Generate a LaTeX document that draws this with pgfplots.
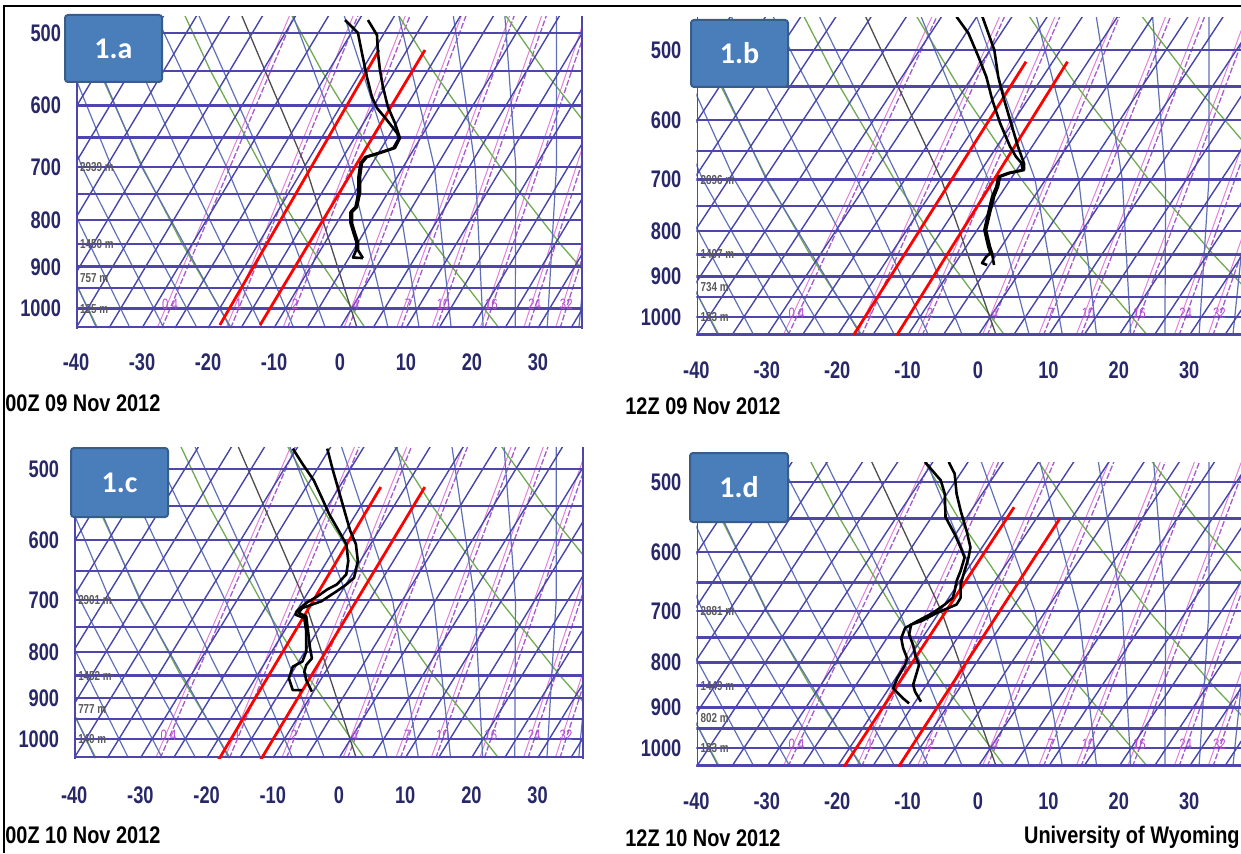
\documentclass[border=0pt]{standalone}
\usepackage{pgfplots}
\pgfplotsset{compat=1.18}
\usetikzlibrary{calc}
\usepackage{fontspec}
\setmainfont{Liberation Sans}
\newfontfamily\tickfont{Liberation Sans}[FakeStretch=0.76]
\newfontfamily\datefont{Liberation Sans}[FakeStretch=0.83]
\newfontfamily\boxfont{Carlito}

\definecolor{isobar}{RGB}{78,70,172}
\definecolor{isotherm}{RGB}{70,70,170}
\definecolor{moist}{RGB}{95,112,182}
\definecolor{dry}{RGB}{112,170,82}
\definecolor{mixr}{RGB}{165,90,205}
\definecolor{mixpink}{RGB}{225,130,215}
\definecolor{ticknavy}{RGB}{40,40,105}
\definecolor{boxblue}{RGB}{74,126,187}
\definecolor{boxedge}{RGB}{56,93,138}

\tikzset{
  hlab/.style={font=\tickfont\bfseries\fontsize{6.5}{7}\selectfont, text=black!65, anchor=west, inner sep=0.5pt},
  mrlab/.style={font=\tickfont\fontsize{7.5}{8}\selectfont, text=mixr!85!magenta, inner sep=0pt},
}

\newcommand\skewgrid{%
\addplot[color=mixpink, line width=0.5pt] coordinates {(-27.7,1050) (-6.07,450) (nan,nan) (-17.25,1050) (3.52,450) (nan,nan) (-8.65,1050) (11.37,450) (nan,nan) (0.59,1050) (19.8,450) (nan,nan) (8.57,1050) (27.05,450) (nan,nan) (13.91,1050) (31.88,450) (nan,nan) (21.24,1050) (38.5,450) (nan,nan) (27.84,1050) (44.45,450) (nan,nan) (32.66,1050) (48.79,450)};
\addplot[color=mixr, line width=0.65pt, dash pattern=on 3pt off 1pt] coordinates {(-27.0,1050) (-5.37,450) (nan,nan) (-16.55,1050) (4.22,450) (nan,nan) (-7.95,1050) (12.07,450) (nan,nan) (1.29,1050) (20.5,450) (nan,nan) (9.27,1050) (27.75,450) (nan,nan) (14.61,1050) (32.58,450) (nan,nan) (21.94,1050) (39.2,450) (nan,nan) (28.54,1050) (45.15,450) (nan,nan) (33.36,1050) (49.49,450)};
\addplot[color=dry, line width=0.65pt] coordinates {(-36.73,1050) (-42.97,850) (-47.99,700) (-53.33,550) (-57.06,450) (nan,nan) (-16.45,1050) (-23.88,850) (-29.93,700) (-36.47,550) (-41.14,450) (nan,nan) (3.83,1050) (-4.78,850) (-11.87,700) (-19.61,550) (-25.22,450) (nan,nan) (24.11,1050) (14.31,850) (6.19,700) (-2.75,550) (-9.30,450) (nan,nan) (44.39,1050) (33.40,850) (24.26,700) (14.11,550) (6.62,450) (nan,nan) (64.67,1050) (52.49,850) (42.32,700) (30.97,550) (22.54,450)};
\addplot[color=moist, line width=0.6pt] coordinates {(-36.88,1050) (-48.13,700) (-56.05,480) (-57.18,450) (nan,nan) (-31.81,1050) (-43.61,700) (-52.0,480) (-53.2,450) (nan,nan) (-26.7,1050) (-39.1,700) (-47.9,480) (-49.4,450) (nan,nan) (-21.65,1050) (-34.6,700) (-43.85,480) (-45.43,450) (nan,nan) (-16.6,1050) (-30.06,700) (-39.8,480) (-41.47,450) (nan,nan) (-11.8,1050) (-23.6,700) (-33.8,480) (-35.54,450) (nan,nan) (-7.0,1050) (-17.2,700) (-27.8,480) (-29.61,450) (nan,nan) (-2.2,1050) (-11.2,700) (-21.3,480) (-23.03,450) (nan,nan) (7.3,1050) (1.45,700) (-7.05,480) (-8.5,450) (nan,nan) (12.0,1050) (8.1,700) (0.7,480) (-0.57,450) (nan,nan) (16.85,1050) (14.3,700) (8.95,480) (8.04,450) (nan,nan) (21.7,1050) (20.5,700) (17.2,480) (16.64,450) (nan,nan) (26.55,1050) (26.65,700) (25.0,480) (24.72,450) (nan,nan) (31.4,1050) (32.8,700) (32.8,480) (32.8,450) (nan,nan) (36.2,1050) (38.5,700) (40.0,480) (40.26,450)};
\addplot[color=black!70, line width=0.65pt] coordinates {(2.6,1050) (-5.2,700) (-14.8,480) (-16.44,450)};
\addplot[color=isotherm, line width=0.7pt] coordinates {(-70,1050) (-39.5,450) (nan,nan) (-65,1050) (-34.5,450) (nan,nan) (-60,1050) (-29.5,450) (nan,nan) (-55,1050) (-24.5,450) (nan,nan) (-50,1050) (-19.5,450) (nan,nan) (-45,1050) (-14.5,450) (nan,nan) (-40,1050) (-9.5,450) (nan,nan) (-35,1050) (-4.5,450) (nan,nan) (-30,1050) (0.5,450) (nan,nan) (-25,1050) (5.5,450) (nan,nan) (-20,1050) (10.5,450) (nan,nan) (-15,1050) (15.5,450) (nan,nan) (-10,1050) (20.5,450) (nan,nan) (-5,1050) (25.5,450) (nan,nan) (0,1050) (30.5,450) (nan,nan) (5,1050) (35.5,450) (nan,nan) (10,1050) (40.5,450) (nan,nan) (15,1050) (45.5,450) (nan,nan) (20,1050) (50.5,450) (nan,nan) (25,1050) (55.5,450) (nan,nan) (30,1050) (60.5,450) (nan,nan) (35,1050) (65.5,450)};
\addplot[color=isobar, line width=1.25pt] coordinates {(-45,500) (45,500) (nan,nan) (-45,550) (45,550) (nan,nan) (-45,600) (45,600) (nan,nan) (-45,650) (45,650) (nan,nan) (-45,700) (45,700) (nan,nan) (-45,750) (45,750) (nan,nan) (-45,800) (45,800) (nan,nan) (-45,850) (45,850) (nan,nan) (-45,900) (45,900) (nan,nan) (-45,950) (45,950) (nan,nan) (-45,1000) (45,1000) (nan,nan) (-45,1047) (45,1047)};
\addplot[color=isobar, line width=0.8pt] coordinates {(-39.85,400) (-39.85,1100)};
}

\newcommand\mrlabels{%
\node[mrlab] at (axis cs:-25.76,990) {0.4};
\node[mrlab] at (axis cs:-15.35,990) {1};
\node[mrlab] at (axis cs:-6.80,990) {2};
\node[mrlab] at (axis cs:2.40,990) {4};
\node[mrlab] at (axis cs:10.33,990) {7};
\node[mrlab] at (axis cs:15.64,990) {10};
\node[mrlab] at (axis cs:22.93,990) {16};
\node[mrlab] at (axis cs:29.50,990) {24};
\node[mrlab] at (axis cs:34.29,990) {32};
}

\newcommand\heights[4]{%
\node[hlab] at (axis cs:-39.6,700) {#1};
\node[hlab] at (axis cs:-39.6,850) {#2};
\node[hlab] at (axis cs:-39.6,925) {#3};
\node[hlab] at (axis cs:-39.6,1000) {#4};
}

\newcommand\panelbox[5]{%
\draw[draw=boxedge, fill=boxblue, line width=1pt, rounded corners=1.5pt] (#1,#2) rectangle (#3,#4);
\node[font=\boxfont\bfseries\fontsize{15}{17}\selectfont, text=white] at ($(#1,#2)!0.5!(#3,#4)$) {#5};
}

\begin{document}
\begin{tikzpicture}
\useasboundingbox (0,0) rectangle (620.5pt,426.5pt);

% ---------------- 1.a
\begin{axis}[scale only axis, ymode=log, y dir=reverse, xmin=-40, ymax=1050,
    axis line style={draw=none}, tick style={draw=none}, major tick length=0pt,
    xtick={-40,-30,-20,-10,0,10,20,30},
    xticklabels={-40,-30,-20,-10,0,10,20,30},
    ytick={500,600,700,800,900,1000},
    yticklabels={500,600,700,800,900,1000},
    ticklabel style={font=\tickfont\bfseries\fontsize{12}{14}\selectfont, text=ticknavy},
    yticklabel style={xshift=-4pt}, xticklabel style={yshift=-9.5pt},
    unbounded coords=jump,
  at={(38pt,262.5pt)}, anchor=south west,
  width=253.4pt, height=155.6pt, xmax=36.8, ymin=480]
\skewgrid
\addplot[color=isobar, line width=0.8pt] coordinates {(36.65,400) (36.65,1100)};
\mrlabels
\heights{2939 m}{1450 m}{757 m}{125 m}
\addplot[color=red, line width=1.4pt] coordinates {(-18.2,1042) (5.91,521.8)};
\addplot[color=red, line width=1.4pt] coordinates {(-12.1,1042) (12.88,521.8)};
\addplot[color=black, line width=1.3pt, line join=round] coordinates {(4.24,483.9) (5.61,502.5) (5.76,525.8) (6.06,548.8) (6.52,572.7) (7.27,602.3) (8.33,627.0) (9.09,651.1) (8.33,667.7) (6.06,676.2) (4.09,683.0) (3.33,693.4) (3.03,718.3) (3.03,747.8) (2.58,774.5) (1.82,784.4) (1.82,806.4) (2.27,826.9) (2.73,845.9) (2.73,863.1) (3.48,880.6)};
\addplot[color=black, line width=1.3pt, line join=round] coordinates {(0.76,483.9) (2.73,500) (3.33,525.8) (4.09,558.5) (4.85,587.3) (5.61,603.8) (7.12,622.3) (8.64,643.0) (8.94,651.1) (8.1,667.7) (5.8,676.2) (3.85,683.0) (3.1,693.4) (2.8,718.3) (2.8,747.8) (2.35,774.5) (1.6,784.4) (1.6,806.4) (2.05,826.9) (2.5,845.9) (2.45,863.1) (1.97,879.5) (3.48,880.6)};
\end{axis}

% ---------------- 1.b
\begin{axis}[scale only axis, ymode=log, y dir=reverse, xmin=-40, ymax=1050,
    axis line style={draw=none}, tick style={draw=none}, major tick length=0pt,
    xtick={-40,-30,-20,-10,0,10,20,30},
    xticklabels={-40,-30,-20,-10,0,10,20,30},
    ytick={500,600,700,800,900,1000},
    yticklabels={500,600,700,800,900,1000},
    ticklabel style={font=\tickfont\bfseries\fontsize{12}{14}\selectfont, text=ticknavy},
    yticklabel style={xshift=-4pt}, xticklabel style={yshift=-9.5pt},
    unbounded coords=jump,
  at={(348.2pt,258.7pt)}, anchor=south west,
  width=272.3pt, height=159.3pt, xmax=37.36, ymin=458.9]
\skewgrid
\mrlabels
\heights{2896 m}{1407 m}{734 m}{183 m}
\addplot[color=red, line width=1.4pt] coordinates {(-17.66,1048) (6.82,515.4)};
\addplot[color=red, line width=1.4pt] coordinates {(-11.5,1048) (12.71,515.4)};
\addplot[color=black, line width=1.3pt, line join=round] coordinates {(0.63,458.6) (2.32,500) (2.87,535.9) (3.72,569.3) (4.84,610.2) (5.68,642.7) (6.53,671.1) (6.53,682.9) (4.55,688.2) (3.13,694.8) (2.84,713.2) (2.27,731.9) (1.70,763.5) (1.14,798.0) (1.70,833.4) (1.99,847.1) (2.27,874.0)};
\addplot[color=black, line width=1.3pt, line join=round] coordinates {(-3.04,458.6) (-1.35,478.8) (0.06,508.8) (1.18,535.9) (2.03,569.3) (3.15,604.9) (4.56,642.7) (5.40,659.7) (6.2,671.1) (6.3,682.9) (4.3,688.2) (2.9,694.8) (2.6,713.2) (2.0,731.9) (1.45,763.5) (0.9,798.0) (1.45,833.4) (1.75,847.1) (1.14,856.0) (0.57,869.5) (1.3,874.0)};
\end{axis}

% ---------------- 1.c
\begin{axis}[scale only axis, ymode=log, y dir=reverse, xmin=-40, ymax=1050,
    axis line style={draw=none}, tick style={draw=none}, major tick length=0pt,
    xtick={-40,-30,-20,-10,0,10,20,30},
    xticklabels={-40,-30,-20,-10,0,10,20,30},
    ytick={500,600,700,800,900,1000},
    yticklabels={500,600,700,800,900,1000},
    ticklabel style={font=\tickfont\bfseries\fontsize{12}{14}\selectfont, text=ticknavy},
    yticklabel style={xshift=-4pt}, xticklabel style={yshift=-11pt},
    unbounded coords=jump,
  at={(37.1pt,47.5pt)}, anchor=south west,
  width=254.9pt, height=155.5pt, xmax=37.0, ymin=472.5]
\skewgrid
\addplot[color=isobar, line width=0.8pt] coordinates {(36.85,400) (36.85,1100)};
\mrlabels
\heights{2901 m}{1452 m}{777 m}{140 m}
\addplot[color=red, line width=1.4pt] coordinates {(-18.26,1056.8) (6.31,523.6)};
\addplot[color=red, line width=1.4pt] coordinates {(-11.9,1056.8) (12.96,523.6)};
\addplot[color=black, line width=1.3pt, line join=round] coordinates {(-1.78,474.4) (-0.92,501.7) (0.24,537.4) (1.10,565.9) (1.69,585.8) (2.55,606.3) (2.84,633.0) (2.27,661.0) (1.10,672.5) (-0.33,684.1) (-1.50,693.0) (-2.64,702.0) (-4.09,708.1) (-5.54,714.3) (-6.12,723.5) (-4.95,729.7) (-4.67,758.5) (-4.38,791.9) (-4.09,812.7) (-4.95,826.9) (-5.24,841.2) (-4.95,859.5) (-4.09,885.7)};
\addplot[color=black, line width=1.3pt, line join=round] coordinates {(-6.98,474.4) (-5.54,493.1) (-3.81,514.7) (-2.64,537.4) (-1.50,561.1) (-0.05,585.8) (1.10,606.3) (1.40,633.0) (1.10,655.2) (-0.33,672.5) (-1.78,681.1) (-3.23,693.0) (-4.95,705.0) (-6.40,720.4) (-6.59,726.7) (-5.26,732.9) (-4.95,758.5) (-4.95,798.8) (-5.54,819.6) (-6.98,830.4) (-7.57,855.8) (-6.98,882.0) (-5.54,882.0)};
\end{axis}

% ---------------- 1.d
\begin{axis}[scale only axis, ymode=log, y dir=reverse, xmin=-40, ymax=1050,
    axis line style={draw=none}, tick style={draw=none}, major tick length=0pt,
    xtick={-40,-30,-20,-10,0,10,20,30},
    xticklabels={-40,-30,-20,-10,0,10,20,30},
    ytick={500,600,700,800,900,1000},
    yticklabels={500,600,700,800,900,1000},
    ticklabel style={font=\tickfont\bfseries\fontsize{12}{14}\selectfont, text=ticknavy},
    yticklabel style={xshift=-4pt}, xticklabel style={yshift=-9.5pt},
    unbounded coords=jump,
  at={(348.2pt,43.15pt)}, anchor=south west,
  width=272.3pt, height=152.35pt, xmax=37.36, ymin=474.6]
\skewgrid
\mrlabels
\heights{2881 m}{1449 m}{802 m}{183 m}
\addplot[color=red, line width=1.4pt] coordinates {(-19.06,1051) (5.13,533.9)};
\addplot[color=red, line width=1.4pt] coordinates {(-11.48,1056) (11.59,550.5)};
\addplot[color=black, line width=1.3pt, line join=round] coordinates {(-4.16,474.5) (-3.32,489.2) (-3.04,515.6) (-2.47,538.6) (-1.63,567.6) (-1.07,592.9) (-1.35,608.7) (-1.91,630.3) (-2.47,652.9) (-2.47,676.1) (-3.04,688.0) (-4.16,694.1) (-5.85,703.3) (-8.10,718.8) (-9.50,725.0) (-9.79,744.4) (-9.22,764.2) (-8.94,784.4) (-8.38,805.3) (-8.66,819.5) (-9.22,848.4) (-8.94,863.4) (-8.10,886.4)};
\addplot[color=black, line width=1.3pt, line join=round] coordinates {(-7.54,474.5) (-5.29,497.8) (-4.72,515.6) (-4.61,548.0) (-3.32,572.6) (-2.47,592.9) (-1.91,608.7) (-2.47,630.3) (-3.04,647.1) (-3.32,664.4) (-3.60,676.1) (-4.72,688.0) (-6.41,703.3) (-8.66,718.8) (-10.35,731.5) (-10.91,751.0) (-10.63,770.8) (-10.07,791.4) (-10.35,805.3) (-11.47,833.9) (-12.04,856.0) (-10.63,878.8) (-9.79,890.3)};
\end{axis}

% boxes
\panelbox{32.5pt}{385.5pt}{81pt}{419pt}{1.a}
\panelbox{345.5pt}{383pt}{394pt}{416.5pt}{1.b}
\panelbox{35.5pt}{168pt}{84pt}{202.5pt}{1.c}
\panelbox{345pt}{165.5pt}{394pt}{200pt}{1.d}

% date labels
\begin{scope}[every node/.style={font=\datefont\bfseries\fontsize{12}{14}\selectfont, inner sep=0pt}]
\node[anchor=west] at (2.5pt,225pt) {00Z 09 Nov 2012};
\node[anchor=west] at (312.5pt,223.5pt) {12Z 09 Nov 2012};
\node[anchor=west] at (2.5pt,9pt) {00Z 10 Nov 2012};
\node[anchor=west] at (312.5pt,7.6pt) {12Z 10 Nov 2012};
\node[anchor=east] at (620pt,7.6pt) {University of Wyoming};
\end{scope}

% outer frame (top and left)
\draw[line width=0.7pt] (2pt,0pt) -- (2pt,423.5pt) -- (620.5pt,423.5pt);
\end{tikzpicture}
\end{document}
